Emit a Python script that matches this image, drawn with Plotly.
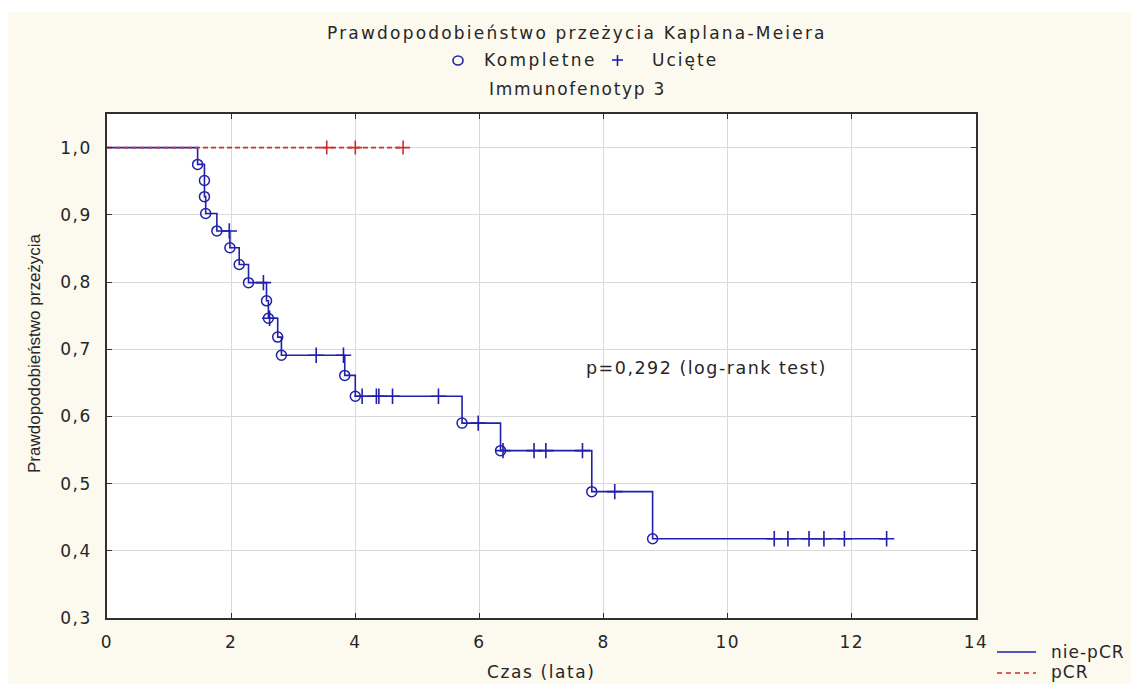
import plotly.graph_objects as go

# ---------------- data ----------------
nonpcr_step_t = [0, 1.46, 1.57, 1.57, 1.59, 1.77, 1.98, 2.13, 2.28, 2.57, 2.60, 2.75,
                 2.81, 3.83, 4.00, 5.72, 6.34, 7.81, 8.79, 12.57]
nonpcr_step_s = [1.0, 0.975, 0.951, 0.927, 0.902, 0.876, 0.851, 0.826, 0.799, 0.772,
                 0.746, 0.718, 0.691, 0.661, 0.630, 0.590, 0.549, 0.488, 0.418, 0.418]
nonpcr_event_t = nonpcr_step_t[1:-1]
nonpcr_event_s = nonpcr_step_s[1:-1]
nonpcr_cens_t = [1.97, 2.52, 2.62, 3.37, 3.81, 4.11, 4.34, 4.38, 4.60, 5.34, 5.98, 6.38,
                 6.88, 7.07, 7.66, 8.18, 10.75, 10.97, 11.31, 11.55, 11.88, 12.56]
nonpcr_cens_s = [0.876, 0.799, 0.746, 0.691, 0.691, 0.630, 0.630, 0.630, 0.630, 0.630,
                 0.590, 0.549, 0.549, 0.549, 0.549, 0.488, 0.418, 0.418, 0.418, 0.418,
                 0.418, 0.418]
pcr_step_t = [0, 4.77]
pcr_step_s = [1.0, 1.0]
pcr_cens_t = [3.54, 4.00, 4.77]
pcr_cens_s = [1.0, 1.0, 1.0]

x_ticks = [0, 2, 4, 6, 8, 10, 12, 14]
y_ticks = [0.3, 0.4, 0.5, 0.6, 0.7, 0.8, 0.9, 1.0]
y_ticktext = ["0,3", "0,4", "0,5", "0,6", "0,7", "0,8", "0,9", "1,0"]
series_names = ["nie-pCR", "pCR"]

# ---------------- layout geometry ----------------
W, H = 1131, 684
L, R, T, B = 107, 976, 114, 618


def pxx(px):
    return (px - L) / (R - L)


def pxy(py):
    return (B - py) / (B - T)


def sp(text, ls):
    return f"<span style='letter-spacing:{ls}px'>{text}</span>"


BLUE = "#2020AA"
RED = "#D42A2A"
TXT = "#262626"
CREAM = "#FCF9EF"
FONT = "DejaVu Sans"

fig = go.Figure()

fig.add_trace(go.Scatter(x=nonpcr_step_t, y=nonpcr_step_s, mode="lines",
                         line=dict(color=BLUE, width=1.6, shape="hv"),
                         name=series_names[0], showlegend=False))
fig.add_trace(go.Scatter(x=pcr_step_t, y=pcr_step_s, mode="lines",
                         line=dict(color=RED, width=1.6, dash="5px,3px", shape="hv"),
                         name=series_names[1], showlegend=False))
fig.add_trace(go.Scatter(x=nonpcr_event_t, y=nonpcr_event_s, mode="markers",
                         marker=dict(symbol="circle-open", size=10, color=BLUE,
                                     line=dict(width=1.5, color=BLUE)),
                         showlegend=False))
fig.add_trace(go.Scatter(x=nonpcr_cens_t, y=nonpcr_cens_s, mode="markers",
                         marker=dict(symbol="cross-thin-open", size=11, color=BLUE,
                                     line=dict(width=1.6, color=BLUE)),
                         showlegend=False))
fig.add_trace(go.Scatter(x=pcr_cens_t, y=pcr_cens_s, mode="markers",
                         marker=dict(symbol="cross-thin-open", size=10, color=RED,
                                     line=dict(width=1.6, color=RED)),
                         showlegend=False))

shapes = [
    # white strips around the cream canvas
    dict(type="rect", xref="paper", yref="paper", x0=pxx(0), x1=pxx(W),
         y0=pxy(12), y1=pxy(0), fillcolor="white", line=dict(width=0), layer="below"),
    dict(type="rect", xref="paper", yref="paper", x0=pxx(0), x1=pxx(8),
         y0=pxy(H), y1=pxy(0), fillcolor="white", line=dict(width=0), layer="below"),
    # top legend symbols
    dict(type="circle", xref="paper", yref="paper", x0=pxx(453), x1=pxx(463),
         y0=pxy(65), y1=pxy(56), line=dict(color=BLUE, width=1.6)),
    dict(type="line", xref="paper", yref="paper", x0=pxx(612), x1=pxx(623),
         y0=pxy(60), y1=pxy(60), line=dict(color=BLUE, width=1.6)),
    dict(type="line", xref="paper", yref="paper", x0=pxx(617.5), x1=pxx(617.5),
         y0=pxy(55), y1=pxy(66), line=dict(color=BLUE, width=1.6)),
    # bottom-right legend line samples
    dict(type="line", xref="paper", yref="paper", x0=pxx(997), x1=pxx(1036),
         y0=pxy(652), y1=pxy(652), line=dict(color=BLUE, width=1.6)),
    dict(type="line", xref="paper", yref="paper", x0=pxx(997), x1=pxx(1036),
         y0=pxy(673), y1=pxy(673), line=dict(color=RED, width=1.6, dash="5px,4px")),
]

annotations = [
    dict(text=sp("Prawdopodobieństwo przeżycia Kaplana-Meiera", 2.2), xref="paper", yref="paper",
         x=pxx(577), y=pxy(33), xanchor="center", yanchor="middle", showarrow=False,
         font=dict(family=FONT, size=17, color=TXT)),
    dict(text=sp("Kompletne", 2.4), xref="paper", yref="paper",
         x=pxx(482), y=pxy(60), xanchor="left", yanchor="middle", showarrow=False,
         font=dict(family=FONT, size=17, color=TXT)),
    dict(text=sp("Ucięte", 2.0), xref="paper", yref="paper",
         x=pxx(650), y=pxy(60), xanchor="left", yanchor="middle", showarrow=False,
         font=dict(family=FONT, size=17, color=TXT)),
    dict(text=sp("Immunofenotyp 3", 1.7), xref="paper", yref="paper",
         x=pxx(577), y=pxy(89), xanchor="center", yanchor="middle", showarrow=False,
         font=dict(family=FONT, size=17, color=TXT)),
    dict(text=sp("p=0,292 (log-rank test)", 1.5), xref="paper", yref="paper",
         x=pxx(584), y=pxy(368), xanchor="left", yanchor="middle", showarrow=False,
         font=dict(family=FONT, size=17.5, color=TXT)),
    dict(text="Prawdopodobieństwo przeżycia", xref="paper", yref="paper",
         x=pxx(34), y=pxy(353), xanchor="center", yanchor="middle", showarrow=False,
         textangle=-90, font=dict(family="Liberation Sans", size=17, color=TXT)),
    dict(text=sp("Czas (lata)", 1.6), xref="paper", yref="paper",
         x=pxx(541), y=pxy(672), xanchor="center", yanchor="middle", showarrow=False,
         font=dict(family=FONT, size=17, color=TXT)),
    dict(text=sp(series_names[0], 1.0), xref="paper", yref="paper",
         x=pxx(1049), y=pxy(652), xanchor="left", yanchor="middle", showarrow=False,
         font=dict(family=FONT, size=17, color=TXT)),
    dict(text=sp(series_names[1], 1.0), xref="paper", yref="paper",
         x=pxx(1049), y=pxy(672), xanchor="left", yanchor="middle", showarrow=False,
         font=dict(family=FONT, size=17, color=TXT)),
]

axis_common = dict(showline=True, linecolor="#303030", linewidth=1.5, mirror="ticks",
                   ticks="inside", ticklen=5, tickwidth=1.3, tickcolor="#303030",
                   showgrid=True, gridcolor="#D9D9D9", gridwidth=1, zeroline=False,
                   tickfont=dict(family=FONT, size=17, color=TXT))

fig.update_layout(
    width=W, height=H,
    margin=dict(l=L, r=W - R, t=T, b=H - B, pad=0),
    paper_bgcolor=CREAM, plot_bgcolor="white",
    xaxis=dict(range=[0, 14], tickvals=x_ticks, ticktext=[sp(str(v), 1.5) for v in x_ticks],
               ticklabelstandoff=8, **axis_common),
    yaxis=dict(range=[0.3, 1.05], tickvals=y_ticks, ticktext=[sp(t, 1.5) for t in y_ticktext],
               ticklabelstandoff=10, **axis_common),
    showlegend=False,
    shapes=shapes, annotations=annotations,
)

fig.write_html("out.html")
